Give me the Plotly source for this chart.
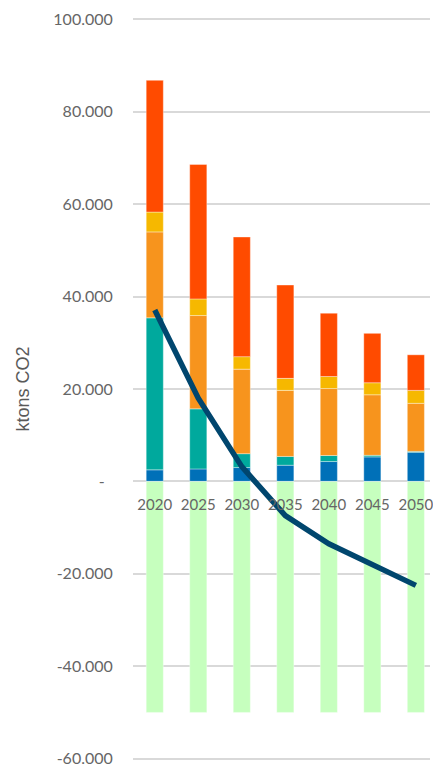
import plotly.graph_objects as go

years = ["2020", "2025", "2030", "2035", "2040", "2045", "2050"]
blue = [2500, 2700, 3000, 3500, 4300, 5300, 6300]
teal = [32900, 13000, 3000, 1900, 1300, 350, 200]
orange = [18600, 20200, 18300, 14300, 14500, 13100, 10400]
yellow = [4300, 3600, 2700, 2600, 2600, 2600, 2800]
red = [28500, 29100, 25900, 20200, 13700, 10700, 7700]
green = [-50000, -50000, -50000, -50000, -50000, -50000, -50000]
net = [37100, 18000, 3200, -7400, -13500, -18000, -22500]

tick_vals = [-60000, -40000, -20000, 0, 20000, 40000, 60000, 80000, 100000]
tick_text = ["-60.000", "-40.000", "-20.000", "-\u00a0\u00a0", "20.000",
             "40.000", "60.000", "80.000", "100.000"]

fig = go.Figure()
edge = dict(color="rgba(255,255,255,0.45)", width=0.8)
for vals, col in [(blue, "#0070B8"), (teal, "#00A99D"), (orange, "#F7941D"),
                  (yellow, "#F6B800"), (red, "#FF4B00"), (green, "#C6FFBE")]:
    fig.add_trace(go.Bar(x=years, y=vals, marker=dict(color=col, line=edge),
                         hoverinfo="y"))

fig.add_trace(go.Scatter(x=years, y=net, mode="lines",
                         line=dict(color="#00466E", width=5.5)))

fig.update_layout(
    width=433, height=768,
    margin=dict(l=133, r=0, t=17.6, b=7.6),
    barmode="relative",
    bargap=0.607,
    showlegend=False,
    plot_bgcolor="white",
    paper_bgcolor="white",
    font=dict(family="Lato, Inter, sans-serif", color="#595959"),
    xaxis=dict(
        type="category",
        range=[-0.5, 6.325],
        anchor="free",
        position=0.3748,
        showgrid=False,
        showline=False,
        zeroline=False,
        ticks="outside", ticklen=9, tickcolor="rgba(0,0,0,0)",
        tickfont=dict(size=15, color="#666666", family="Lato, sans-serif"),
    ),
    yaxis=dict(
        range=[-60300, 100300],
        tickvals=tick_vals,
        ticktext=tick_text,
        showgrid=True,
        gridcolor="#D9D9D9",
        gridwidth=1.5,
        zeroline=True,
        zerolinecolor="#D9D9D9",
        zerolinewidth=1.5,
        ticks="outside", ticklen=16, tickcolor="rgba(0,0,0,0)",
        tickfont=dict(size=16, color="#666666", family="Lato, sans-serif"),
        title=dict(text="ktons CO2", standoff=19,
                   font=dict(size=18, color="#595959",
                             family="Liberation Sans, Arial, sans-serif")),
    ),
)

fig.write_html("out.html")
